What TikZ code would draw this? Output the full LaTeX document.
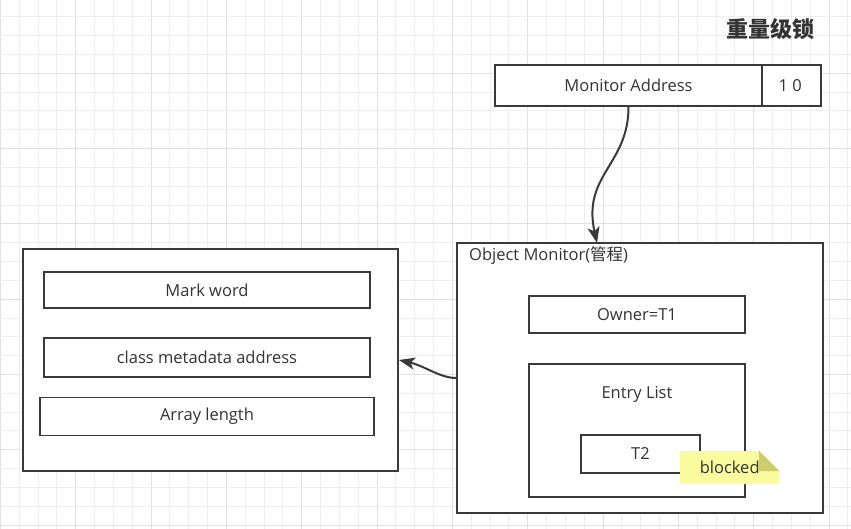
\documentclass[tikz,border=0pt]{standalone}
\usepackage{fontspec}
\setmainfont{Open Sans}
\newfontfamily\cjk{Noto Sans CJK SC}
\usetikzlibrary{arrows.meta}
\definecolor{txt}{HTML}{333333}
\definecolor{ln}{HTML}{3A3A3A}
\definecolor{gridminor}{HTML}{EEEEEE}
\definecolor{gridmajor}{HTML}{E0E0E0}
\definecolor{notefill}{HTML}{FAFA9E}
\definecolor{notefold}{HTML}{CDCD70}
\tikzset{
  box/.style={draw=ln, line width=1.8pt, fill=white, inner sep=0pt, text=txt,
    font=\fontsize{16.5}{19}\selectfont, anchor=center},
  lbl/.style={inner sep=0pt, text=txt, font=\fontsize{16.5}{19}\selectfont},
  conn/.style={draw=ln, line width=2pt, -{Stealth[length=16pt,width=12pt,inset=4pt]}},
}
\begin{document}
\begin{tikzpicture}[x=1pt,y=-1pt]
\useasboundingbox (0,0) rectangle (851,529);
\fill[white] (0,0) rectangle (851,529);
% grid
\foreach \i in {0,...,45} {
  \pgfmathsetmacro{\gx}{0.5+18.83*\i}
  \pgfmathtruncatemacro{\m}{mod(\i,4)}
  \ifnum\m=0 \draw[gridmajor,line width=1pt] (\gx,0) -- (\gx,529);
  \else \draw[gridminor,line width=1pt] (\gx,0) -- (\gx,529); \fi
}
\foreach \i in {0,...,29} {
  \pgfmathsetmacro{\gy}{-2.1+18.83*\i}
  \pgfmathtruncatemacro{\m}{mod(\i,4)}
  \ifnum\m=0 \draw[gridmajor,line width=1pt] (0,\gy) -- (851,\gy);
  \else \draw[gridminor,line width=1pt] (0,\gy) -- (851,\gy); \fi
}
% title
\node[inner sep=0pt, text=txt, font=\cjk\bfseries\fontsize{22}{25}\selectfont] (title) at (770.5,29.5) {重量级锁};
% mark word header
\node[box, minimum width=267pt, minimum height=41pt] (ma) at (628.5,85.5) {Monitor Address};
\node[box, minimum width=59pt, minimum height=41pt] (bits) at (791.5,85.5) {1 0\,};
% object
\node[box, minimum width=375pt, minimum height=222pt] (obj) at (210.5,360) {};
\node[box, minimum width=326pt, minimum height=36pt] (mw) at (207,290) {Mark word};
\node[box, minimum width=326pt, minimum height=39pt] (cm) at (207,357.5) {class metadata address};
\node[box, minimum width=334pt, minimum height=38pt] (al) at (207,416.5) {Array length};
% monitor
\node[box, minimum width=366pt, minimum height=270pt] (om) at (640,378) {};
\node[lbl, anchor=west] (omlabel) at (469,255.5) {Object Monitor({\cjk 管程})};
\node[box, minimum width=216pt, minimum height=37pt] (ow) at (637,314.5) {Owner=T1};
\node[box, minimum width=216pt, minimum height=133pt] (el) at (637,430.5) {};
\node[lbl] (ellabel) at (637,394.5) {Entry List};
\node[box, minimum width=119pt, minimum height=38pt] (t2) at (640.5,454) {T2};
% note
\fill[notefill] (680,451) -- (759,451) -- (779,471) -- (779,484) -- (680,484) -- cycle;
\fill[notefold] (759,451) -- (759,471) -- (779,471) -- cycle;
\node[lbl] (note) at (729.7,467.5) {blocked};
% connectors
\coordinate (omtop) at (597,243);
\draw[conn] (ma.south) .. controls (628.5,165) and (582,175) .. (omtop);
\draw[conn] (om.west) .. controls (440,378) and (425,366) .. (obj.east);
\end{tikzpicture}
\end{document}
